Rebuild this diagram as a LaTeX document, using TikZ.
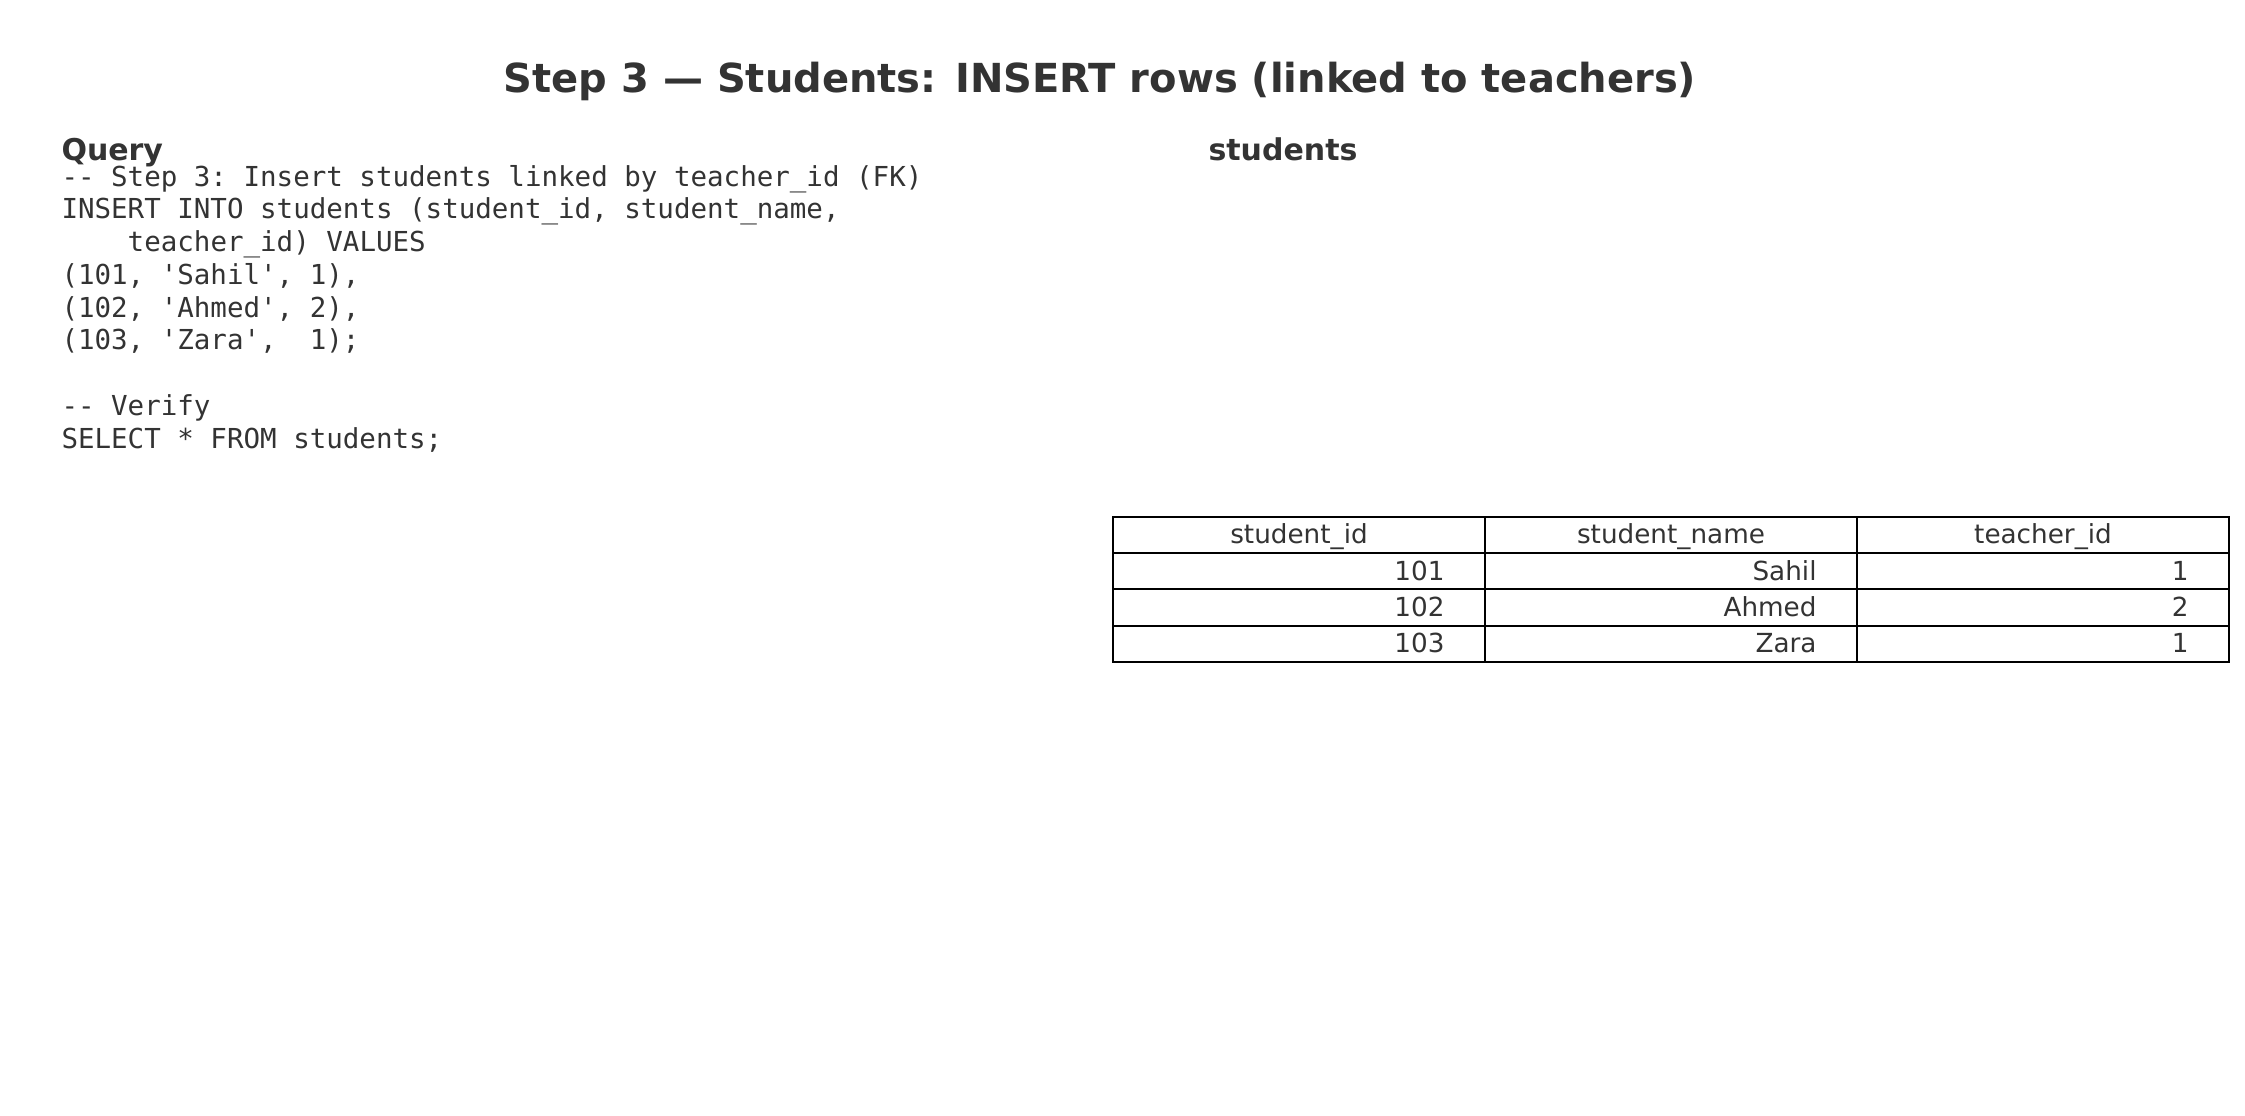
\documentclass[tikz,border=0pt]{standalone}
\usepackage{fontspec}
\setmainfont{DejaVu Sans}
\setsansfont{DejaVu Sans}
\setmonofont{DejaVu Sans Mono}
\definecolor{inkgray}{HTML}{333333}
\tikzset{
  txt/.style={inner sep=0pt, text=inkgray},
  heading/.style={txt, anchor=base west, font=\fontsize{12}{14}\selectfont\bfseries},
  cellhead/.style={txt, anchor=base, font=\fontsize{10.5}{12}\selectfont},
  cellval/.style={txt, anchor=base east, font=\fontsize{10.5}{12}\selectfont},
  gridline/.style={line width=0.8pt},
}
\begin{document}
\begin{tikzpicture}[x=0.4pt,y=-0.4pt]
     % Page
     \useasboundingbox (0,0) rectangle (2245,1115);
     % Definitions
     \def\tl{1113}
     \def\tt{517}
     \def\cw{372}
     \def\rh{36.2}
     % Title and headings
     \node[txt, anchor=base, font=\fontsize{16}{19}\selectfont\bfseries] (title) at (1100,92)
       {Step 3 — Students: INSERT rows (linked to teachers)};
     \node[heading] (query) at (61,160) {Query};
     \node[heading] (tablename) at (1208,160) {students};
     % Query text (anchored at its last line)
     \node[txt, anchor=base west, align=left, font=\fontsize{11}{13.1}\selectfont\ttfamily] (code) at (61,448)
       {-- Step 3: Insert students linked by teacher\_id (FK)\\
        INSERT INTO students (student\_id, student\_name,\\
        \ \ \ \ teacher\_id) VALUES\\
        (101, 'Sahil', 1),\\
        (102, 'Ahmed', 2),\\
        (103, 'Zara', \ 1);\\
        \strut\\
        -- Verify\\
        SELECT * FROM students;};
     % Table grid
     \draw[gridline] (\tl,\tt) rectangle (\tl+3*\cw,\tt+4*\rh);
     \foreach \i in {1,2,3}
       \draw[gridline] (\tl,\tt+\i*\rh) -- (\tl+3*\cw,\tt+\i*\rh);
     \foreach \j in {1,2}
       \draw[gridline] (\tl+\j*\cw,\tt) -- (\tl+\j*\cw,\tt+4*\rh);
     % Header row
     \foreach \j/\h in {0/student\_id,1/student\_name,2/teacher\_id}
       \node[cellhead] (head\j) at (\tl+\j*\cw+0.5*\cw,\tt+0.5*\rh+8.5) {\h};
     % Data rows
     \foreach \i/\sid/\sname/\tid in {1/101/Sahil/1,2/102/Ahmed/2,3/103/Zara/1} {
       \node[cellval] (id\i) at (\tl+\cw-40,\tt+\i*\rh+0.5*\rh+9) {\sid};
       \node[cellval] (name\i) at (\tl+2*\cw-40,\tt+\i*\rh+0.5*\rh+9) {\sname};
       \node[cellval] (tid\i) at (\tl+3*\cw-40,\tt+\i*\rh+0.5*\rh+9) {\tid};
     };
\end{tikzpicture}
\end{document}
